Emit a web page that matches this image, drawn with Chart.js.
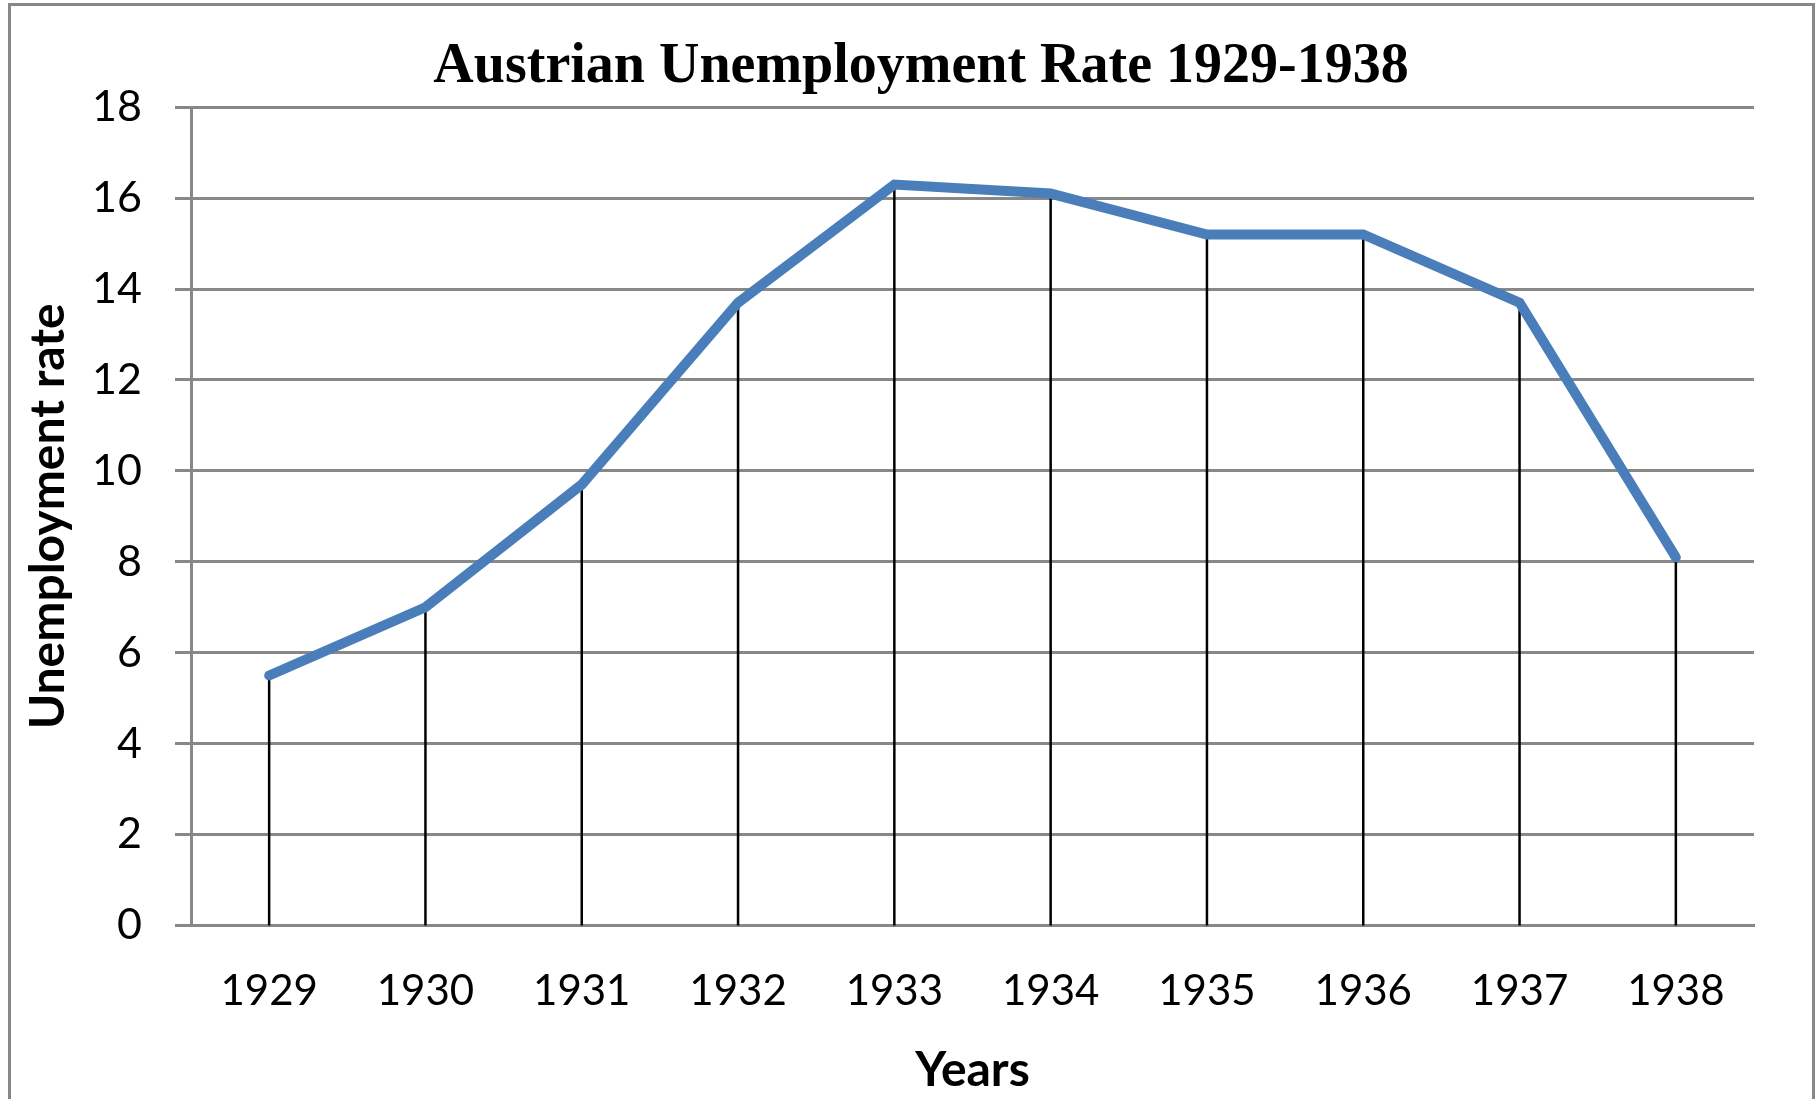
<!DOCTYPE html>
<html>
<head>
<meta charset="utf-8">
<script src="https://cdn.jsdelivr.net/npm/chart.js@4/dist/chart.umd.min.js"></script>
<style>
  html, body { margin: 0; padding: 0; background: #fff; overflow: hidden; }
  canvas { display: block; }
</style>
</head>
<body>
<canvas id="chart" width="1816" height="1099"></canvas>
<script>
// Data
var years = ['1929', '1930', '1931', '1932', '1933', '1934', '1935', '1936', '1937', '1938'];
var unemploymentRate = [5.5, 7.0, 9.7, 13.7, 16.3, 16.1, 15.2, 15.2, 13.7, 8.1];
var yTicks = [0, 2, 4, 6, 8, 10, 12, 14, 16, 18];

var gridGrey = '#888888';
var lineBlue = '#4a7ebb';

// left padding moves the title over; the y axis gets the rest of the room
var padLeft = 88;

// black drop lines from each point down to the x axis
var dropLines = {
    id: 'dropLines',
    beforeDatasetsDraw: function (chart) {
        var ctx = chart.ctx;
        var x = chart.scales.x;
        var y = chart.scales.y;
        ctx.save();
        ctx.strokeStyle = '#000';
        ctx.lineWidth = 2.5;
        unemploymentRate.forEach(function (v, i) {
            var px = x.getPixelForValue(i);
            ctx.beginPath();
            ctx.moveTo(px, y.getPixelForValue(v));
            ctx.lineTo(px, y.getPixelForValue(0));
            ctx.stroke();
        });
        ctx.restore();
    }
};

// grey frame round the whole chart
var frame = {
    id: 'frame',
    afterDraw: function (chart) {
        var ctx = chart.ctx;
        ctx.save();
        ctx.strokeStyle = gridGrey;
        ctx.lineWidth = 3;
        ctx.strokeRect(9.5, 4.5, 1804, 1110);
        ctx.restore();
    }
};

var ctx = document.getElementById('chart');
var chart = new Chart(ctx, {
    type: 'line',
    data: {
        labels: years,
        datasets: [{
            data: unemploymentRate,
            borderColor: lineBlue,
            borderWidth: 10,
            pointRadius: 0,
            tension: 0,
            borderCapStyle: 'round',
            borderJoinStyle: 'miter'
        }]
    },
    options: {
        responsive: false,
        animation: false,
        layout: { padding: { left: padLeft, right: 62, top: 0, bottom: 0 } },
        plugins: {
            legend: { display: false },
            tooltip: { enabled: false },
            title: {
                display: true,
                text: 'Austrian Unemployment Rate 1929-1938',
                color: '#000',
                font: { family: '"Liberation Serif", "Times New Roman", serif', size: 56, weight: 'bold', lineHeight: 1.2 },
                padding: { top: 34, bottom: 6 }
            }
        },
        scales: {
            x: {
                offset: true,
                grid: { display: false, drawTicks: false },
                border: { display: true, color: gridGrey, width: 3 },
                ticks: {
                    color: '#000',
                    padding: 41,
                    maxRotation: 0,
                    font: { family: 'Lato, "Open Sans", sans-serif', size: 42 }
                },
                title: {
                    display: true,
                    text: 'Years',
                    color: '#000',
                    font: { family: 'Lato, "Open Sans", sans-serif', size: 48, weight: 'bold', lineHeight: 1.2 },
                    padding: { top: 0, bottom: 0 }
                },
                afterFit: function (scale) { scale.height = 173.5; }
            },
            y: {
                min: 0,
                max: 18,
                afterBuildTicks: function (scale) {
                    scale.ticks = yTicks.map(function (v) { return { value: v }; });
                },
                grid: { color: gridGrey, lineWidth: 3, tickLength: 16, drawTicks: true },
                border: { display: true, color: gridGrey, width: 3 },
                ticks: {
                    color: '#000',
                    padding: 33,
                    font: { family: 'Lato, "Open Sans", sans-serif', size: 43 }
                },
                title: {
                    display: true,
                    text: 'Unemployment rate',
                    color: '#000',
                    font: { family: 'Lato, "Open Sans", sans-serif', size: 48, weight: 'bold', lineHeight: 1.2 },
                    padding: { top: 49 - padLeft - 28.8, bottom: 0 }
                },
                afterFit: function (scale) { scale.width = 191 - padLeft; }
            }
        }
    },
    plugins: [dropLines, frame]
});
</script>
</body>
</html>
